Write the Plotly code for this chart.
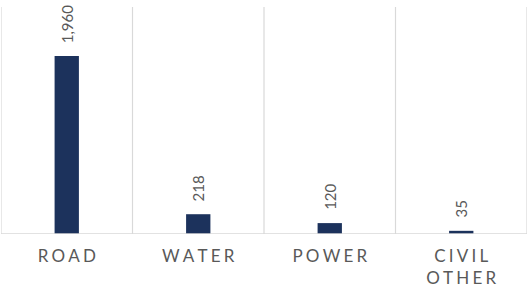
import plotly.graph_objects as go

categories = ["ROAD", "WATER", "POWER", "CIVIL<br>OTHER"]
values = [1960, 218, 120, 35]

def spaced(label):
    # letter-spaced look, line breaks kept
    return "<br>".join("\u2009\u200A".join(list(part)) for part in label.split("<br>"))

tick_text = [spaced(c) for c in categories]
x_pos = list(range(len(categories)))

fig = go.Figure()
fig.add_trace(go.Bar(
    x=x_pos, y=values, width=0.185,
    marker=dict(color="#1C325C", line=dict(width=0)),
    hoverinfo="skip",
))

for xi, v in zip(x_pos, values):
    fig.add_annotation(
        x=xi, y=v, xref="x", yref="y", text=f"{v:,}",
        textangle=-90, showarrow=False, yanchor="bottom", xanchor="center",
        yshift=11, font=dict(family="Lato, sans-serif", size=15, color="#595959"),
    )

for b in range(len(categories) + 1):
    fig.add_shape(type="line", xref="x", yref="paper", x0=b - 0.5, x1=b - 0.5,
                  y0=0, y1=1, line=dict(color="#D9D9D9", width=1.2), layer="below")
fig.add_shape(type="line", xref="paper", yref="y", x0=0, x1=1, y0=0, y1=0,
              line=dict(color="#D9D9D9", width=1.5))

fig.update_layout(
    width=529, height=289,
    margin=dict(l=1, r=2, t=7, b=55, autoexpand=False),
    plot_bgcolor="white", paper_bgcolor="white",
    showlegend=False,
    xaxis=dict(range=[-0.5, len(categories) - 0.5], tickmode="array",
               tickvals=x_pos, ticktext=tick_text, showgrid=False, zeroline=False,
               ticks="", showline=False, automargin=False, ticklabelstandoff=10,
               tickfont=dict(family="Lato, sans-serif", size=17, color="#595959")),
    yaxis=dict(range=[0, 2500], visible=False, showgrid=False, zeroline=False,
               automargin=False),
)

fig.write_html("out.html", config={"displayModeBar": False, "staticPlot": True},
               post_script="document.body.style.margin='0';")
